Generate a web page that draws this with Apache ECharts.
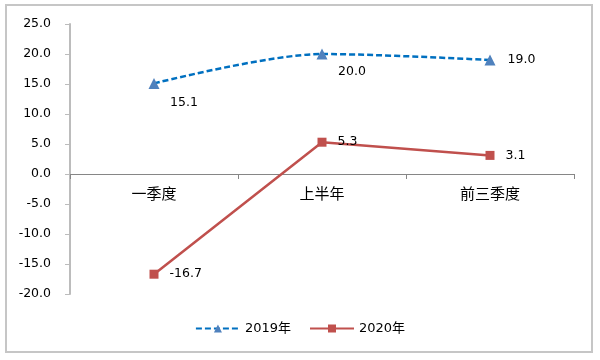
<!DOCTYPE html>
<html><head><meta charset="utf-8">
<script src="https://cdn.jsdelivr.net/npm/echarts@6/dist/echarts.min.js"></script>
<style>html,body{margin:0;padding:0;background:#fff;}#c{width:600px;height:360px;}</style>
</head><body><div id="c"></div>
<script>
var categories = ['一季度', '上半年', '前三季度'];
var values2019 = [15.1, 20.0, 19.0];
var values2020 = [-16.7, 5.3, 3.1];
var seriesNames = ['2019年', '2020年'];

var chart = echarts.init(document.getElementById('c'));
var font = 'Tahoma, Verdana, "DejaVu Sans", "Noto Sans CJK SC", sans-serif';
chart.setOption({
  animation: false,
  textStyle: { fontFamily: font },
  graphic: [{
    type: 'rect', shape: { x: 6, y: 5, width: 586, height: 347 },
    style: { fill: 'none', stroke: '#c6c6c6', lineWidth: 2 }, silent: true
  }],
  grid: [
    { left: 70, right: 26, top: 24, bottom: 66 },
    { left: 70, right: 26, top: 24, height: 150 }
  ],
  legend: {
    bottom: 20, left: 'center', itemWidth: 44, itemHeight: 10, itemGap: 18,
    textStyle: { fontSize: 13, color: '#000', fontFamily: font },
    data: seriesNames
  },
  xAxis: [
    { type: 'category', data: categories, gridIndex: 0, show: false },
    {
      type: 'category', data: categories, gridIndex: 1, position: 'bottom',
      axisLine: { onZero: false, lineStyle: { color: '#868686', width: 1 } },
      axisTick: { show: true, length: 5, lineStyle: { color: '#868686' } },
      axisLabel: { color: '#000', fontSize: 15, margin: 14, fontFamily: font }
    }
  ],
  yAxis: [
    {
      type: 'value', min: -20, max: 25, interval: 5, gridIndex: 0,
      splitLine: { show: false },
      axisLine: { show: true, lineStyle: { color: '#bcbcbc', width: 2 } },
      axisTick: { show: true, length: 5, lineStyle: { color: '#bcbcbc', width: 1 } },
      axisLabel: { color: '#000', fontSize: 12.5, margin: 19, fontFamily: font,
        formatter: function (v) { return v.toFixed(1); } }
    },
    { type: 'value', gridIndex: 1, min: 0, max: 1, show: false }
  ],
  series: [
    {
      name: seriesNames[0], type: 'line', smooth: 0.3,
      xAxisIndex: 0, yAxisIndex: 0,
      symbol: 'triangle', symbolSize: 11,
      itemStyle: { color: '#4F81BD' },
      lineStyle: { color: '#0070C0', width: 2.5, type: [6, 3] },
      label: { show: true, fontSize: 12.5, color: '#000', fontFamily: font,
        formatter: function (p) { return p.value.toFixed(1); },
        position: 'right', distance: 8 },
      data: [
        { value: values2019[0], label: { position: 'bottom', offset: [30, 0] } },
        { value: values2019[1], label: { position: 'bottom', offset: [30, -2] } },
        { value: values2019[2], label: { position: 'right', offset: [4, 0] } }
      ]
    },
    {
      name: seriesNames[1], type: 'line',
      xAxisIndex: 0, yAxisIndex: 0,
      symbol: 'rect', symbolSize: 9,
      itemStyle: { color: '#C0504D' },
      lineStyle: { color: '#C0504D', width: 2.5 },
      label: { show: true, fontSize: 12.5, color: '#000', fontFamily: font,
        formatter: function (p) { return p.value.toFixed(1); },
        position: 'right', distance: 11 },
      data: values2020
    }
  ]
});
</script></body></html>
